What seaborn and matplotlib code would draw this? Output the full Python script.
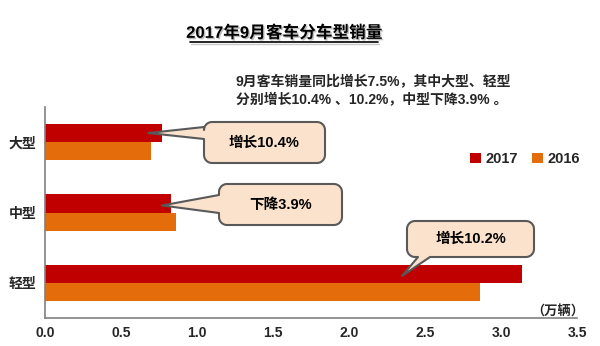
import numpy as np
import pandas as pd
import matplotlib
matplotlib.use("Agg")
import matplotlib.pyplot as plt
import matplotlib.patheffects as pe
from matplotlib.patches import Polygon, Patch
from matplotlib.lines import Line2D
from matplotlib.transforms import Affine2D
import seaborn as sns

# Sales (10k units) by bus segment, Sept 2017 vs Sept 2016
categories = ["大型", "中型", "轻型"]
sales_2017 = [0.77, 0.83, 3.14]
sales_2016 = [0.70, 0.86, 2.86]
years = ["2017", "2016"]
x_ticks = [0.0, 0.5, 1.0, 1.5, 2.0, 2.5, 3.0, 3.5]

callout_texts = ["增长10.4%", "下降3.9%", "增长10.2%"]
callout_tips = [(0.68, -0.13), (0.77, 0.90), (2.35, 1.90)]

RED = "#C00000"
ORANGE = "#E46C0A"
BUBBLE_FC = "#FBE2CC"
BUBBLE_EC = "#595959"

sns.set_theme(style="white")
FONT = ["Liberation Sans", "Noto Sans CJK SC"]
plt.rcParams["font.family"] = FONT
plt.rcParams["font.weight"] = "bold"

W, H = 600, 346
fig = plt.figure(figsize=(W / 100, H / 100), dpi=100)
ax = fig.add_axes([45 / W, (H - 318) / H, (577 - 45) / W, (318 - 107) / H])

df = pd.DataFrame({
    "车型": categories * 2,
    "年份": [years[0]] * 3 + [years[1]] * 3,
    "销量": sales_2017 + sales_2016,
})
sns.barplot(data=df, y="车型", x="销量", hue="年份", order=categories,
            hue_order=years, palette=[RED, ORANGE], orient="h", width=0.52,
            saturation=1, linewidth=0, ax=ax)

ax.set_xlim(0, 3.5)
ax.set_ylim(2.5, -0.5)
ax.set_xlabel("")
ax.set_ylabel("")
ax.set_xticks(x_ticks)
ax.set_xticklabels([f"{v:.1f}" for v in x_ticks], fontsize=10, fontweight="bold")
ax.set_yticks(range(len(categories)))
ax.set_yticklabels(categories, fontsize=10, fontweight="bold")
ax.set_yticks([-0.5, 0.5, 1.5, 2.5], minor=True)
ax.tick_params(axis="y", which="major", length=0, pad=6)
ax.tick_params(axis="y", which="minor", direction="in", length=5, width=1, color="#808080")
ax.tick_params(axis="x", direction="in", length=5, width=1, color="#808080", pad=6)
for s in ["top", "right"]:
    ax.spines[s].set_visible(False)
for s in ["left", "bottom"]:
    ax.spines[s].set_color("#808080")
    ax.spines[s].set_linewidth(1.2)
ax.get_legend().remove()

# legend
handles = [Patch(facecolor=RED, edgecolor="none"), Patch(facecolor=ORANGE, edgecolor="none")]
fig.legend(handles, years, loc="center", bbox_to_anchor=(525 / W, (H - 159) / H),
           ncol=2, frameon=False, handlelength=0.75, handleheight=0.75,
           handletextpad=0.35, columnspacing=0.9,
           prop={"family": FONT, "weight": "bold", "size": 10.5})

# title with underline
title = fig.text(284 / W, (H - 33) / H, "2017年9月客车分车型销量", ha="center", va="center",
                 fontsize=12, fontweight="bold", color="black")
title.set_path_effects([pe.SimplePatchShadow(offset=(1, -1), alpha=0.25), pe.Normal()])
fig.add_artist(Line2D([190 / W, 378 / W], [(H - 42) / H] * 2, color="black", lw=1.2,
                      transform=fig.transFigure))
fig.add_artist(Line2D([191 / W, 379 / W], [(H - 43.5) / H] * 2, color="#c8c8c8", lw=1,
                      transform=fig.transFigure))

# summary note
fig.text(236 / W, (H - 82) / H, "9月客车销量同比增长7.5%，其中大型、轻型",
         ha="left", va="center", fontsize=10, fontweight="bold")
fig.text(236 / W, (H - 100) / H, "分别增长10.4% 、10.2%，中型下降3.9% 。",
         ha="left", va="center", fontsize=10, fontweight="bold")

# unit label
fig.text(558 / W, (H - 312) / H, "（万辆）", ha="center", va="center",
         fontsize=9.5, fontweight="bold")

# speech-bubble callouts (pixel geometry, y measured upward)
px = Affine2D().scale(1 / W, 1 / H) + fig.transFigure


def to_px(xd, yd):
    disp = ax.transData.transform((xd, yd))
    fx, fy = fig.transFigure.inverted().transform(disp)
    return fx * W, fy * H


def bubble(x0, y0, x1, y1, r, side, b0, b1, tip):
    pts = []

    def arc(cx, cy, a0, a1):
        for t in np.linspace(a0, a1, 10):
            pts.append((cx + r * np.cos(t), cy + r * np.sin(t)))

    pts.append((x0 + r, y0))
    if side == "bottom":
        pts += [(b0, y0), tip, (b1, y0)]
    pts.append((x1 - r, y0))
    arc(x1 - r, y0 + r, -np.pi / 2, 0)
    pts.append((x1, y1 - r))
    arc(x1 - r, y1 - r, 0, np.pi / 2)
    pts.append((x0 + r, y1))
    arc(x0 + r, y1 - r, np.pi / 2, np.pi)
    if side == "left":
        pts += [(x0, max(b0, b1)), tip, (x0, min(b0, b1))]
    pts.append((x0, y0 + r))
    arc(x0 + r, y0 + r, np.pi, 1.5 * np.pi)
    return pts


boxes = [
    (204, H - 163, 325, H - 122, "left", H - 139, H - 127),
    (219, H - 225, 342, H - 184, "left", H - 213, H - 195),
    (407, H - 257, 534, H - 221, "bottom", 418, 430),
]
for (x0, y0, x1, y1, side, b0, b1), txt, (tx, ty) in zip(boxes, callout_texts, callout_tips):
    tip = to_px(tx, ty)
    poly = Polygon(bubble(x0, y0, x1, y1, 8, side, b0, b1, tip), closed=True,
                   facecolor=BUBBLE_FC, edgecolor=BUBBLE_EC, linewidth=1.5,
                   transform=px, joinstyle="round")
    fig.add_artist(poly)
    fig.text((x0 + x1) / 2 / W, (y0 + y1) / 2 / H, txt, ha="center", va="center",
             fontsize=10.5, fontweight="bold", color="black")

fig.savefig("out.png", dpi=100)
